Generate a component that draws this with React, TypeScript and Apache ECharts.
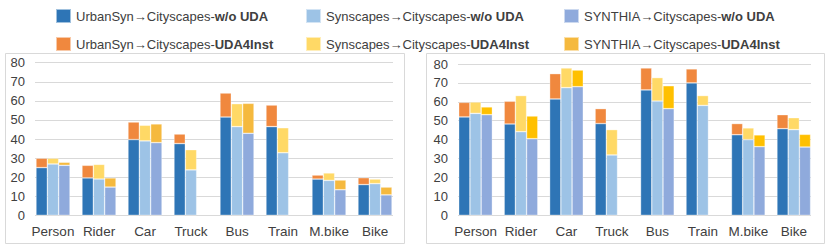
import React, { useEffect, useRef } from "react";
import * as echarts from "echarts";

const categories = ["Person", "Rider", "Car", "Truck", "Bus", "Train", "M.bike", "Bike"];
const yTicks = { min: 0, max: 80, interval: 10 };

// Left panel
const urbanBaseA = [25.0, 19.6, 39.7, 37.6, 51.5, 46.5, 19.0, 16.1];
const urbanUdaA = [29.9, 26.2, 48.9, 42.6, 64.1, 57.8, 21.1, 19.7];
const synBaseA = [26.9, 19.0, 39.0, 23.8, 46.5, 32.8, 18.3, 16.6];
const synUdaA = [29.9, 26.7, 47.2, 34.4, 58.5, 45.9, 22.2, 19.0];
const synthiaBaseA = [26.2, 14.8, 38.1, null, 43.0, null, 13.4, 10.7];
const synthiaUdaA = [27.8, 19.6, 47.9, null, 58.7, null, 18.5, 14.8];

// Right panel
const urbanBaseB = [52.0, 48.3, 61.5, 48.5, 66.3, 70.0, 42.6, 45.8];
const urbanUdaB = [59.7, 60.3, 74.9, 56.4, 77.9, 77.4, 48.5, 53.2];
const synBaseB = [53.9, 44.2, 67.5, 31.9, 60.4, 58.1, 40.0, 45.3];
const synUdaB = [59.9, 63.3, 77.9, 45.3, 72.8, 63.3, 46.2, 51.6];
const synthiaBaseB = [53.2, 40.5, 68.0, null, 56.4, null, 36.3, 36.1];
const synthiaUdaB = [57.3, 52.5, 76.8, null, 68.5, null, 42.5, 42.8];

const names = {
  uBase: "UrbanSyn→Cityscapes-w/o UDA",
  sBase: "Synscapes→Cityscapes-w/o UDA",
  tBase: "SYNTHIA→Cityscapes-w/o UDA",
  uUda: "UrbanSyn→Cityscapes-UDA4Inst",
  sUda: "Synscapes→Cityscapes-UDA4Inst",
  tUda: "SYNTHIA→Cityscapes-UDA4Inst",
};

const FONT = "'Liberation Sans', Arial, sans-serif";
const TEXT = "#404040";
const GRIDC = "#D9D9D9";

const diff = (top: (number | null)[], base: (number | null)[]) =>
  top.map((t, i) => (t == null || base[i] == null ? null : Math.round((t - (base[i] as number)) * 10) / 10));

function panelSeries(
  axis: number,
  uB: (number | null)[], uT: (number | null)[],
  sB: (number | null)[], sT: (number | null)[],
  tB: (number | null)[], tT: (number | null)[],
  tUdaColor: string
) {
  const common = {
    type: "bar" as const,
    xAxisIndex: axis,
    yAxisIndex: axis,
    barGap: "0%",
    barCategoryGap: "26%",
  };
  const st = (color: string) => ({ color, borderColor: "rgba(255,255,255,0.55)", borderWidth: 0.6 });
  return [
    { ...common, name: names.uBase, stack: "u" + axis, data: uB, itemStyle: st("#2E75B6") },
    { ...common, name: names.uUda, stack: "u" + axis, data: diff(uT, uB), itemStyle: st("#F0883E") },
    { ...common, name: names.sBase, stack: "s" + axis, data: sB, itemStyle: st("#9DC3E6") },
    { ...common, name: names.sUda, stack: "s" + axis, data: diff(sT, sB), itemStyle: st("#FFD966") },
    { ...common, name: names.tBase, stack: "t" + axis, data: tB, itemStyle: st("#8FAADC") },
    { ...common, name: names.tUda, stack: "t" + axis, data: diff(tT, tB), itemStyle: st(tUdaColor) },
  ];
}

const legendPos: [string, number, number][] = [
  [names.uBase, 50, 3],
  [names.sBase, 300, 3],
  [names.tBase, 558, 3],
  [names.uUda, 50, 31],
  [names.sUda, 300, 31],
  [names.tUda, 558, 31],
];

export default function App() {
  const ref = useRef<HTMLDivElement>(null);
  useEffect(() => {
    if (!ref.current) return;
    const chart = echarts.init(ref.current, undefined, { renderer: "svg" });

    const grids = [
      { left: 30, top: 62.7, width: 368, height: 152.6 },
      { left: 35, top: 62.7, width: 358, height: 152.6 },
      { left: 452.8, top: 64, width: 363.7, height: 151.3 },
      { left: 458, top: 64, width: 353, height: 151.3 },
    ];

    const catAxis = (gridIndex: number) => ({
      type: "category" as const,
      gridIndex,
      data: categories,
      axisLine: { show: false },
      axisTick: { show: false },
      axisLabel: { color: TEXT, fontSize: 13.5, fontFamily: FONT, margin: 9, interval: 0 },
    });
    const dummyX = (gridIndex: number) => ({ type: "value" as const, gridIndex, show: false });
    const hiddenY = (gridIndex: number) => ({
      type: "value" as const, gridIndex, min: yTicks.min, max: yTicks.max, interval: yTicks.interval, show: false,
    });
    const lineY = (gridIndex: number) => ({
      type: "value" as const,
      gridIndex,
      min: yTicks.min,
      max: yTicks.max,
      interval: yTicks.interval,
      axisLine: { show: false },
      axisTick: { show: false },
      axisLabel: { color: TEXT, fontSize: 13, fontFamily: FONT, margin: 10 },
      splitLine: { show: true, lineStyle: { color: GRIDC, width: 1 } },
    });

    const legends = legendPos.map(([n, left, top]) => ({
      data: [n],
      left,
      top,
      orient: "horizontal" as const,
      icon: "rect",
      itemWidth: 15,
      itemHeight: 14,
      selectedMode: false,
      formatter: (name: string) => {
        const i = name.lastIndexOf("-");
        return `{n|${name.slice(0, i + 1)}}{b|${name.slice(i + 1)}}`;
      },
      textStyle: {
        fontFamily: FONT,
        fontSize: 13,
        color: TEXT,
        rich: {
          n: { fontFamily: FONT, fontSize: 13, color: TEXT },
          b: { fontFamily: FONT, fontSize: 13, color: TEXT, fontWeight: "bold" },
        },
      },
    }));

    chart.setOption({
      animation: false,
      backgroundColor: "#ffffff",
      textStyle: { fontFamily: FONT },
      legend: legends,
      grid: grids,
      xAxis: [catAxis(0), dummyX(1), catAxis(2), dummyX(3)],
      yAxis: [hiddenY(0), lineY(1), hiddenY(2), lineY(3)],
      graphic: [
        { type: "rect", shape: { x: 5.5, y: 53.5, width: 399, height: 190 }, style: { fill: "none", stroke: GRIDC, lineWidth: 1 }, z: -1 },
        { type: "rect", shape: { x: 426.5, y: 53.5, width: 398, height: 190 }, style: { fill: "none", stroke: GRIDC, lineWidth: 1 }, z: -1 },
      ],
      series: [
        ...panelSeries(0, urbanBaseA, urbanUdaA, synBaseA, synUdaA, synthiaBaseA, synthiaUdaA, "#F5B93E"),
        ...panelSeries(2, urbanBaseB, urbanUdaB, synBaseB, synUdaB, synthiaBaseB, synthiaUdaB, "#FFC000"),
      ],
    });
    return () => chart.dispose();
  }, []);
  return <div ref={ref} style={{ position: "fixed", left: 0, top: 0, width: 830, height: 249 }} />;
}
